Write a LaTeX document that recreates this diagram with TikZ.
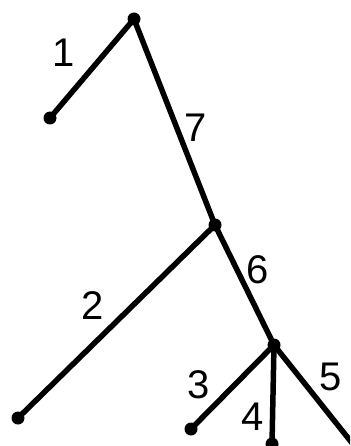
\documentclass[tikz,border=0pt]{standalone}
\usepackage{fontspec}
\setmainfont{Liberation Sans}
\begin{document}
\begin{tikzpicture}[x=1pt,y=-1pt,
  dot/.style={circle,fill=black,inner sep=0pt,minimum size=13pt},
  edge/.style={line width=5.5pt,black},
  lab/.style={font=\fontsize{40}{40}\selectfont,inner sep=0pt}]
\useasboundingbox (0,0) rectangle (350,446);
\clip (0,0) rectangle (350,446);
\node[dot] (a) at (134,19) {};
\node[dot] (l1) at (50,118) {};
\node[dot] (b) at (215,225) {};
\node[dot] (l2) at (18,418) {};
\node[dot] (c) at (274,345) {};
\node[dot] (l3) at (191,429) {};
\node[dot] (l4) at (272,444) {};
\coordinate (l5) at (356,448);
\draw[edge] (a.center) -- (l1.center);
\draw[edge] (a.center) -- (b.center);
\draw[edge] (b.center) -- (l2.center);
\draw[edge] (b.center) -- (c.center);
\draw[edge] (c.center) -- (l3.center);
\draw[edge] (c.center) -- (l4.center);
\draw[edge] (c.center) -- (l5);
\node[lab] (t1) at (64,53) {1};
\node[lab] (t7) at (196,128) {7};
\node[lab] (t6) at (258,270) {6};
\node[lab] (t2) at (93,306) {2};
\node[lab] (t3) at (199,385) {3};
\node[lab] (t4) at (253,417) {4};
\node[lab] (t5) at (331,377) {5};
\end{tikzpicture}
\end{document}
